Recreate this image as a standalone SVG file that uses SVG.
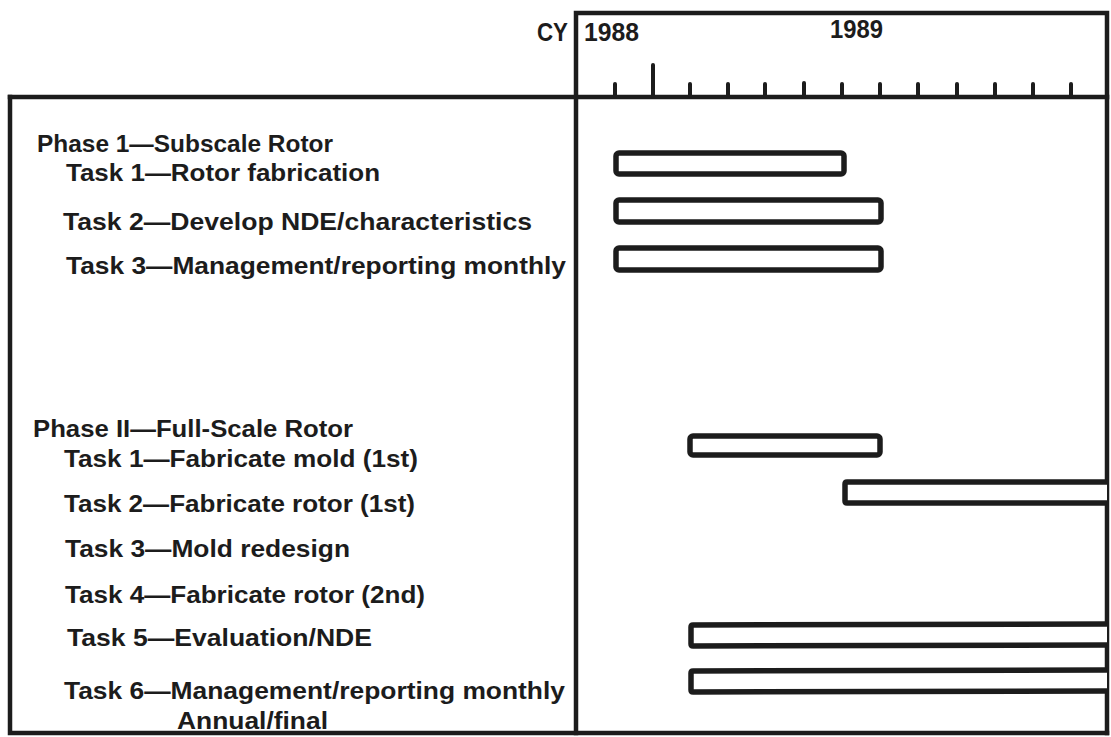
<svg xmlns="http://www.w3.org/2000/svg" width="1111" height="737" viewBox="0 0 1111 737">
  <style>
    .frame { fill: none; stroke: #1c1c1c; stroke-width: 4.5; stroke-linecap: square; }
    .tick { stroke: #1c1c1c; stroke-width: 4; stroke-linecap: round; }
    .bar { fill: #ffffff; stroke: #1c1c1c; stroke-width: 5.5; stroke-linejoin: round; }
    .lbl { font-family: "Liberation Sans", Arial, sans-serif; font-weight: bold; font-size: 24px; fill: #1c1c1c; }
    .yr { font-size: 25px; }
  </style>
  <rect x="0" y="0" width="1111" height="737" fill="#ffffff"/>

  <!-- schedule frame: header box, table box and the column divider -->
  <g id="frame">
    <path class="frame" d="M576,733 L576,13 L1107,13 L1107,733"/>
    <path class="frame" d="M10,97 L1107,97"/>
    <path class="frame" d="M10,97 L10,733 L1107,733"/>
  </g>

  <!-- calendar-year axis with monthly ticks -->
  <g id="axis">
    <text class="lbl yr" x="537" y="41" textLength="31" lengthAdjust="spacingAndGlyphs">CY</text>
    <text class="lbl yr" x="584" y="41" textLength="55" lengthAdjust="spacingAndGlyphs">1988</text>
    <text class="lbl yr" x="830" y="38" textLength="53" lengthAdjust="spacingAndGlyphs">1989</text>
    <line class="tick" x1="615" y1="84" x2="615" y2="96"/>
    <line class="tick" x1="653" y1="65" x2="653" y2="96"/>
    <line class="tick" x1="690" y1="84" x2="690" y2="96"/>
    <line class="tick" x1="728" y1="84" x2="728" y2="96"/>
    <line class="tick" x1="765" y1="84" x2="765" y2="96"/>
    <line class="tick" x1="804" y1="83" x2="804" y2="96"/>
    <line class="tick" x1="842" y1="84" x2="842" y2="96"/>
    <line class="tick" x1="880" y1="84" x2="880" y2="96"/>
    <line class="tick" x1="918" y1="84" x2="918" y2="96"/>
    <line class="tick" x1="957" y1="84" x2="957" y2="96"/>
    <line class="tick" x1="995" y1="84" x2="995" y2="96"/>
    <line class="tick" x1="1033" y1="84" x2="1033" y2="96"/>
    <line class="tick" x1="1071" y1="84" x2="1071" y2="96"/>
  </g>

  <!-- Phase 1 -->
  <g id="phase1">
    <text class="lbl" x="37" y="152" textLength="296" lengthAdjust="spacingAndGlyphs">Phase 1—Subscale Rotor</text>
  </g>
  <g id="p1-task1">
    <text class="lbl" x="66" y="181" textLength="314" lengthAdjust="spacingAndGlyphs">Task 1—Rotor fabrication</text>
    <rect class="bar" x="616" y="153" width="228" height="21" rx="3"/>
  </g>
  <g id="p1-task2">
    <text class="lbl" x="63" y="230" textLength="469" lengthAdjust="spacingAndGlyphs">Task 2—Develop NDE/characteristics</text>
    <rect class="bar" x="616" y="200" width="265" height="22" rx="3"/>
  </g>
  <g id="p1-task3">
    <text class="lbl" x="66" y="274" textLength="500" lengthAdjust="spacingAndGlyphs">Task 3—Management/reporting monthly</text>
    <rect class="bar" x="616" y="248" width="265" height="22" rx="3"/>
  </g>

  <!-- Phase II -->
  <g id="phase2">
    <text class="lbl" x="33" y="437" textLength="320" lengthAdjust="spacingAndGlyphs">Phase II—Full-Scale Rotor</text>
  </g>
  <g id="p2-task1">
    <text class="lbl" x="64" y="467" textLength="354" lengthAdjust="spacingAndGlyphs">Task 1—Fabricate mold (1st)</text>
    <rect class="bar" x="690" y="436" width="190" height="19" rx="3"/>
  </g>
  <g id="p2-task2">
    <text class="lbl" x="64" y="512" textLength="351" lengthAdjust="spacingAndGlyphs">Task 2—Fabricate rotor (1st)</text>
    <path class="bar" d="M1107,482 L847,482 Q845,482 845,484 L845,501 Q845,503 847,503 L1107,503"/>
  </g>
  <g id="p2-task3">
    <text class="lbl" x="65" y="557" textLength="285" lengthAdjust="spacingAndGlyphs">Task 3—Mold redesign</text>
  </g>
  <g id="p2-task4">
    <text class="lbl" x="65" y="603" textLength="360" lengthAdjust="spacingAndGlyphs">Task 4—Fabricate rotor (2nd)</text>
  </g>
  <g id="p2-task5">
    <text class="lbl" x="67" y="646" textLength="305" lengthAdjust="spacingAndGlyphs">Task 5—Evaluation/NDE</text>
    <path class="bar" d="M1107,624 L693,625 Q691,625 691,627 L691,644 Q691,646 693,646 L1107,645"/>
  </g>
  <g id="p2-task6">
    <text class="lbl" x="64" y="699" textLength="501" lengthAdjust="spacingAndGlyphs">Task 6—Management/reporting monthly</text>
    <text class="lbl" x="177" y="729" textLength="151" lengthAdjust="spacingAndGlyphs">Annual/final</text>
    <path class="bar" d="M1107,670 L693,671 Q691,671 691,673 L691,690 Q691,692 693,692 L1107,691"/>
  </g>
</svg>
